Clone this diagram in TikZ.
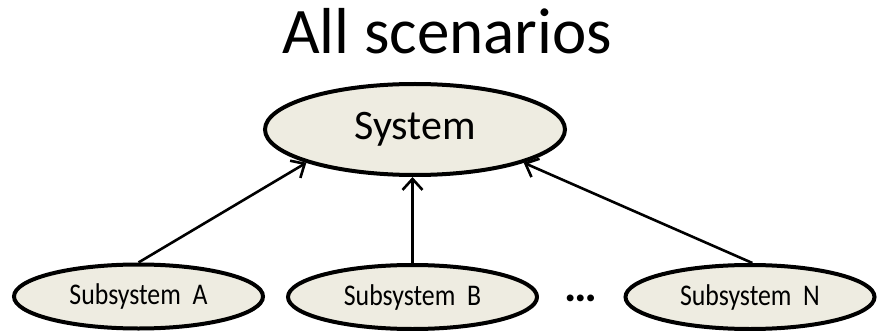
\documentclass[tikz,border=0pt]{standalone}
\usepackage{fontspec}
\setmainfont{Carlito}
\usetikzlibrary{arrows.meta,shapes.geometric}
\definecolor{nodefill}{HTML}{EEECE1}
\newcommand{\narrowtext}[1]{\scalebox{0.86}[1]{#1}}
\begin{document}
\begin{tikzpicture}[x=1pt,y=-1pt,
  sysnode/.style={ellipse, draw=black, line width=4pt, fill=nodefill, inner sep=0pt,
    minimum width=300pt, minimum height=91pt, font=\fontsize{42}{50}\selectfont},
  subnode/.style={ellipse, draw=black, line width=4pt, fill=nodefill, inner sep=0pt,
    minimum width=249pt, minimum height=64pt, font=\fontsize{30}{36}\selectfont},
  link/.style={line width=2.6pt, -{Straight Barb[length=11pt,width=20pt,line width=2.6pt]}}]
  \useasboundingbox (0,0) rectangle (877,331);
  \fill[white] (0,0) rectangle (877,331);

  % title
  \node[anchor=base, font=\fontsize{65}{72}\selectfont, inner sep=0pt] (title) at (447,54) {All scenarios};

  % top-level system
  \node[sysnode] (sys) at (415,129.5) {System};

  % subsystems
  \node[subnode] (sa) at (138.5,296.5) {\narrowtext{Subsystem\ \ A}};
  \node[subnode] (sb) at (412.5,297) {\narrowtext{Subsystem\ \ B}};
  \node[subnode] (sn) at (750,297) {\narrowtext{Subsystem\ \ N}};
  \node[font=\fontsize{46}{50}\selectfont\bfseries, inner sep=0pt] (dots) at (581,298) {…};

  % dependencies
  \draw[link] (sa.north) -- (sys.197);
  \draw[link] (sb.north) -- (sb.north |- sys.south);
  \draw[link] (sn.86) -- (sys.343);
\end{tikzpicture}
\end{document}
